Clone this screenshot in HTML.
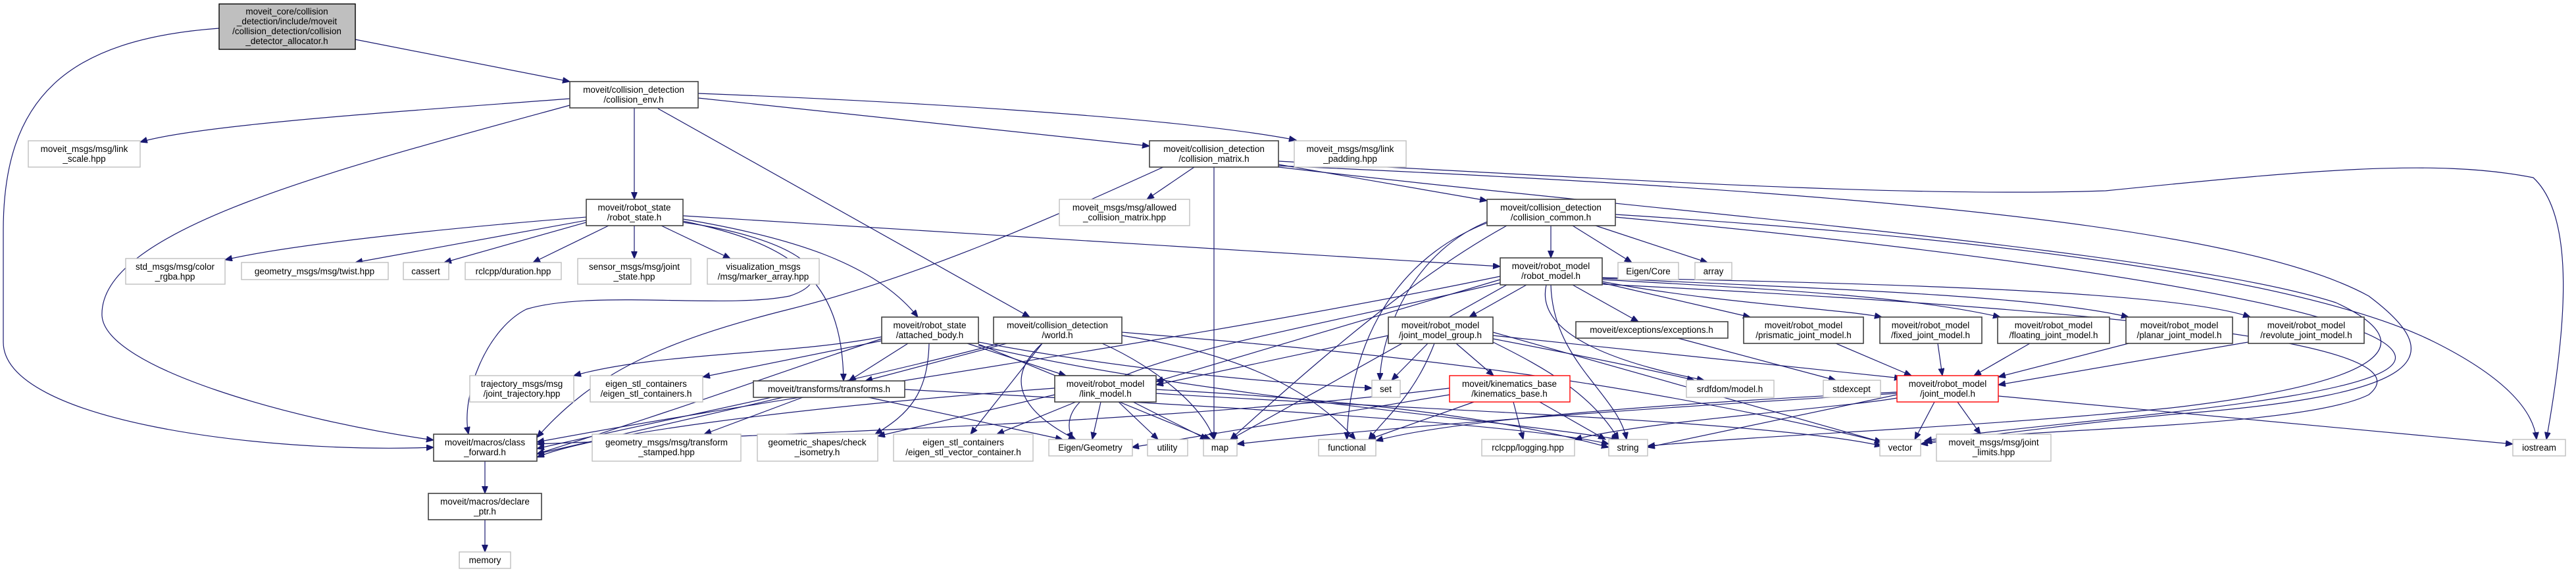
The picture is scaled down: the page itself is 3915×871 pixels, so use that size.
<!DOCTYPE html>
<html><head><meta charset="utf-8"><style>
html,body{margin:0;padding:0;background:#fff;}
svg{display:block;}
text{font-family:"Liberation Sans",sans-serif;font-size:13.5px;fill:#000;text-anchor:middle;}
.n{fill:#fff;stroke:#404040;stroke-width:1.6;}
.l{fill:#fff;stroke:#bfbfbf;stroke-width:1.4;}
.r{fill:#fff;stroke:#ff0000;stroke-width:1.4;}
.m{fill:#bfbfbf;stroke:#000;stroke-width:1.4;}
.e path{fill:none;stroke:#191970;stroke-width:1.2;marker-end:url(#a);}
</style></head><body>
<svg width="3915" height="871" viewBox="0 0 3915 871" xmlns="http://www.w3.org/2000/svg">
<defs><marker id="a" markerUnits="userSpaceOnUse" markerWidth="12" markerHeight="10" refX="11" refY="4.5" orient="auto"><path d="M0,0 L11,4.5 L0,9 z" fill="#191970" stroke="#191970"/></marker></defs>
<g class="e">
<path d="M540,60 L866,124"/>
<path d="M333,43 C100,60 5,150 5,350 L5,520 C5,640 400,690 659,680"/>
<path d="M866,150 C600,170 300,190 213,216"/>
<path d="M866,160 C500,260 150,350 155,480 C160,560 450,640 659,669"/>
<path d="M964,164 L964,303"/>
<path d="M1000,165 L1565,482"/>
<path d="M1061,149 L1747,222"/>
<path d="M1061,142 C1400,155 1800,180 1970,213"/>
<path d="M1815,254 L1743,303"/>
<path d="M1768,254 C1600,330 1400,420 1200,470 C1000,520 900,570 816,665"/>
<path d="M1845,254 L1845,668"/>
<path d="M1943,250 L2260,305"/>
<path d="M1943,245 C2500,275 2900,300 3200,290 C3500,260 3700,240 3850,270 C3915,330 3900,500 3870,668"/>
<path d="M1943,252 C2800,290 3400,340 3600,450 C3720,540 3700,600 3300,630 C3100,650 3000,665 2919,675"/>
<path d="M1943,254 C2500,320 3300,380 3550,460 C3680,520 3640,580 3300,620 C3000,650 2700,660 2504,678"/>
<path d="M2357,343 L2357,392"/>
<path d="M2390,343 L2480,399"/>
<path d="M2425,343 L2595,399"/>
<path d="M2265,335 C2150,380 2100,500 2097,578"/>
<path d="M2262,338 C2100,400 2050,550 2047,668"/>
<path d="M2290,343 C2150,420 2000,550 1870,668"/>
<path d="M2455,326 C3000,360 3500,420 3700,520 C3800,570 3850,620 3855,668"/>
<path d="M2455,330 C3100,390 3620,470 3640,540 C3660,610 3100,640 2925,670"/>
<path d="M891,330 C700,345 450,370 342,395"/>
<path d="M891,335 L540,399"/>
<path d="M891,338 L675,399"/>
<path d="M925,343 L810,399"/>
<path d="M964,343 L964,393"/>
<path d="M1005,343 L1110,393"/>
<path d="M1038,328 L2280,405"/>
<path d="M1038,333 C1200,360 1330,400 1395,482"/>
<path d="M1038,336 C1200,370 1280,420 1282,579"/>
<path d="M1038,338 C1200,360 1290,420 1200,450 C1100,470 900,440 800,470 C740,500 700,600 712,660"/>
<path d="M1380,522 L1290,579"/>
<path d="M1412,522 C1410,600 1380,630 1330,660"/>
<path d="M1470,522 L1620,571"/>
<path d="M1340,515 C1200,560 1100,600 816,690"/>
<path d="M1340,518 L1068,573"/>
<path d="M1340,512 C1200,540 1000,535 872,571"/>
<path d="M1487,520 C1700,560 1900,580 2085,590"/>
<path d="M1487,525 C1800,600 2300,640 2460,668"/>
<path d="M1487,523 L1840,668"/>
<path d="M1530,522 L1315,579"/>
<path d="M1584,522 L1475,660"/>
<path d="M1584,522 C1520,580 1560,630 1635,668"/>
<path d="M1675,522 C1760,560 1830,620 1845,668"/>
<path d="M1705,505 C2000,530 2400,560 2860,672"/>
<path d="M1705,510 C1900,540 2000,600 2060,668"/>
<path d="M1520,522 C1300,580 1000,640 816,682"/>
<path d="M1190,604 L816,690"/>
<path d="M1220,604 L1070,660"/>
<path d="M1320,604 L1615,668"/>
<path d="M1375,592 C1700,610 2300,640 2445,675"/>
<path d="M1603,590 C1200,620 900,660 816,695"/>
<path d="M1603,600 L1334,663"/>
<path d="M1635,611 L1515,660"/>
<path d="M1673,611 L1660,668"/>
<path d="M1700,611 L1760,668"/>
<path d="M1722,611 L1835,668"/>
<path d="M1757,592 C2100,610 2300,640 2445,680"/>
<path d="M1757,598 C2100,620 2700,640 2860,678"/>
<path d="M2320,433 L2233,482"/>
<path d="M2390,433 L2490,489"/>
<path d="M2435,430 L2660,482"/>
<path d="M2435,428 C2600,460 2800,470 2860,482"/>
<path d="M2435,425 C2700,440 2900,450 3040,482"/>
<path d="M2435,423 C2800,440 3100,450 3235,482"/>
<path d="M2435,422 C2800,430 3300,440 3420,482"/>
<path d="M2280,425 L1757,580"/>
<path d="M2280,420 C1800,520 1200,600 816,672"/>
<path d="M2280,430 C1900,520 1580,560 1630,668"/>
<path d="M2350,433 C2330,520 2500,560 2590,578"/>
<path d="M2357,433 C2360,550 2460,600 2472,668"/>
<path d="M2290,433 L1870,668"/>
<path d="M2435,432 C3200,470 3700,520 3600,600 C3500,650 3100,650 2925,672"/>
<path d="M2170,522 L2115,578"/>
<path d="M2213,522 L2270,571"/>
<path d="M2180,522 C2150,600 2110,630 2080,668"/>
<path d="M2269,515 C2400,540 2500,560 2575,578"/>
<path d="M2269,510 L2890,575"/>
<path d="M2110,510 L1757,585"/>
<path d="M2269,520 C2350,560 2420,600 2460,668"/>
<path d="M2269,505 L2860,672"/>
<path d="M2203,590 C1800,640 1200,660 816,675"/>
<path d="M2240,611 L2080,668"/>
<path d="M2300,611 L2315,668"/>
<path d="M2340,611 L2440,668"/>
<path d="M2203,600 L1720,680"/>
<path d="M2550,514 L2790,578"/>
<path d="M2790,522 L2905,571"/>
<path d="M2945,522 L2952,571"/>
<path d="M3085,522 L3000,571"/>
<path d="M3235,522 L3037,573"/>
<path d="M3417,520 L3037,585"/>
<path d="M2940,611 L2910,668"/>
<path d="M2975,611 L3010,660"/>
<path d="M3037,602 L3819,675"/>
<path d="M2883,600 L2504,680"/>
<path d="M2883,605 C2800,620 2500,640 2393,668"/>
<path d="M2883,598 C2500,620 2100,650 1880,675"/>
<path d="M2883,596 C2500,615 2200,640 2091,670"/>
<path d="M737,701 L737,750"/>
<path d="M737,790 L737,839"/>
</g>
<!-- nodes -->
<rect class="m" x="333" y="6" width="207" height="69"/>
<text x="436" y="22">moveit_core/collision</text><text x="436" y="37">_detection/include/moveit</text><text x="436" y="52">/collision_detection/collision</text><text x="436" y="67">_detector_allocator.h</text>
<rect class="n" x="866" y="124" width="195" height="40"/><text x="963" y="141">moveit/collision_detection</text><text x="963" y="156">/collision_env.h</text>
<rect class="l" x="43" y="214" width="170" height="40"/><text x="128" y="231">moveit_msgs/msg/link</text><text x="128" y="246">_scale.hpp</text>
<rect class="n" x="1747" y="214" width="196" height="40"/><text x="1845" y="231">moveit/collision_detection</text><text x="1845" y="246">/collision_matrix.h</text>
<rect class="l" x="1967" y="214" width="170" height="40"/><text x="2052" y="231">moveit_msgs/msg/link</text><text x="2052" y="246">_padding.hpp</text>
<rect class="n" x="891" y="303" width="147" height="40"/><text x="964" y="320">moveit/robot_state</text><text x="964" y="335">/robot_state.h</text>
<rect class="l" x="1610" y="303" width="198" height="40"/><text x="1709" y="320">moveit_msgs/msg/allowed</text><text x="1709" y="335">_collision_matrix.hpp</text>
<rect class="n" x="2260" y="303" width="195" height="40"/><text x="2357" y="320">moveit/collision_detection</text><text x="2357" y="335">/collision_common.h</text>
<rect class="l" x="191" y="393" width="151" height="39"/><text x="266" y="410">std_msgs/msg/color</text><text x="266" y="425">_rgba.hpp</text>
<rect class="l" x="367" y="399" width="223" height="26"/><text x="478" y="417">geometry_msgs/msg/twist.hpp</text>
<rect class="l" x="613" y="399" width="69" height="26"/><text x="647" y="417">cassert</text>
<rect class="l" x="707" y="399" width="146" height="26"/><text x="780" y="417">rclcpp/duration.hpp</text>
<rect class="l" x="878" y="393" width="172" height="39"/><text x="964" y="410">sensor_msgs/msg/joint</text><text x="964" y="425">_state.hpp</text>
<rect class="l" x="1075" y="393" width="170" height="39"/><text x="1160" y="410">visualization_msgs</text><text x="1160" y="425">/msg/marker_array.hpp</text>
<rect class="n" x="2280" y="392" width="155" height="41"/><text x="2357" y="409">moveit/robot_model</text><text x="2357" y="424">/robot_model.h</text>
<rect class="l" x="2459" y="399" width="92" height="26"/><text x="2505" y="417">Eigen/Core</text>
<rect class="l" x="2576" y="399" width="56" height="26"/><text x="2604" y="417">array</text>
<rect class="n" x="1340" y="482" width="147" height="40"/><text x="1413" y="499">moveit/robot_state</text><text x="1413" y="514">/attached_body.h</text>
<rect class="n" x="1510" y="482" width="195" height="40"/><text x="1607" y="499">moveit/collision_detection</text><text x="1607" y="514">/world.h</text>
<rect class="n" x="2110" y="482" width="159" height="40"/><text x="2189" y="499">moveit/robot_model</text><text x="2189" y="514">/joint_model_group.h</text>
<rect class="n" x="2395" y="489" width="231" height="25"/><text x="2510" y="506">moveit/exceptions/exceptions.h</text>
<rect class="n" x="2650" y="482" width="182" height="40"/><text x="2741" y="499">moveit/robot_model</text><text x="2741" y="514">/prismatic_joint_model.h</text>
<rect class="n" x="2857" y="482" width="155" height="40"/><text x="2934" y="499">moveit/robot_model</text><text x="2934" y="514">/fixed_joint_model.h</text>
<rect class="n" x="3036" y="482" width="170" height="40"/><text x="3121" y="499">moveit/robot_model</text><text x="3121" y="514">/floating_joint_model.h</text>
<rect class="n" x="3231" y="482" width="162" height="40"/><text x="3312" y="499">moveit/robot_model</text><text x="3312" y="514">/planar_joint_model.h</text>
<rect class="n" x="3417" y="482" width="176" height="40"/><text x="3505" y="499">moveit/robot_model</text><text x="3505" y="514">/revolute_joint_model.h</text>
<rect class="l" x="714" y="571" width="158" height="40"/><text x="793" y="588">trajectory_msgs/msg</text><text x="793" y="603">/joint_trajectory.hpp</text>
<rect class="l" x="897" y="571" width="171" height="40"/><text x="982" y="588">eigen_stl_containers</text><text x="982" y="603">/eigen_stl_containers.h</text>
<rect class="n" x="1145" y="579" width="230" height="25"/><text x="1260" y="596">moveit/transforms/transforms.h</text>
<rect class="n" x="1603" y="571" width="154" height="40"/><text x="1680" y="588">moveit/robot_model</text><text x="1680" y="603">/link_model.h</text>
<rect class="l" x="2085" y="578" width="43" height="26"/><text x="2106" y="596">set</text>
<rect class="r" x="2203" y="571" width="183" height="40"/><text x="2294" y="588" fill="#000">moveit/kinematics_base</text><text x="2294" y="603">/kinematics_base.h</text>
<rect class="l" x="2563" y="578" width="133" height="26"/><text x="2629" y="596">srdfdom/model.h</text>
<rect class="l" x="2771" y="578" width="87" height="26"/><text x="2814" y="596">stdexcept</text>
<rect class="r" x="2883" y="571" width="154" height="40"/><text x="2960" y="588">moveit/robot_model</text><text x="2960" y="603">/joint_model.h</text>
<rect class="n" x="659" y="660" width="157" height="41"/><text x="737" y="677">moveit/macros/class</text><text x="737" y="692">_forward.h</text>
<rect class="l" x="900" y="660" width="226" height="41"/><text x="1013" y="677">geometry_msgs/msg/transform</text><text x="1013" y="692">_stamped.hpp</text>
<rect class="l" x="1151" y="660" width="183" height="41"/><text x="1242" y="677">geometric_shapes/check</text><text x="1242" y="692">_isometry.h</text>
<rect class="l" x="1358" y="660" width="212" height="41"/><text x="1464" y="677">eigen_stl_containers</text><text x="1464" y="692">/eigen_stl_vector_container.h</text>
<rect class="l" x="1594" y="668" width="127" height="25"/><text x="1657" y="685">Eigen/Geometry</text>
<rect class="l" x="1744" y="668" width="61" height="25"/><text x="1774" y="685">utility</text>
<rect class="l" x="1829" y="668" width="51" height="25"/><text x="1854" y="685">map</text>
<rect class="l" x="2004" y="668" width="87" height="25"/><text x="2047" y="685">functional</text>
<rect class="l" x="2252" y="668" width="141" height="25"/><text x="2322" y="685">rclcpp/logging.hpp</text>
<rect class="l" x="2445" y="668" width="59" height="25"/><text x="2474" y="685">string</text>
<rect class="l" x="2857" y="668" width="62" height="25"/><text x="2888" y="685">vector</text>
<rect class="l" x="2943" y="660" width="174" height="41"/><text x="3030" y="677">moveit_msgs/msg/joint</text><text x="3030" y="692">_limits.hpp</text>
<rect class="l" x="3819" y="668" width="80" height="25"/><text x="3859" y="685">iostream</text>
<rect class="n" x="651" y="750" width="172" height="40"/><text x="737" y="767">moveit/macros/declare</text><text x="737" y="782">_ptr.h</text>
<rect class="l" x="698" y="839" width="78" height="25"/><text x="737" y="856">memory</text>
</svg>
</body></html>
